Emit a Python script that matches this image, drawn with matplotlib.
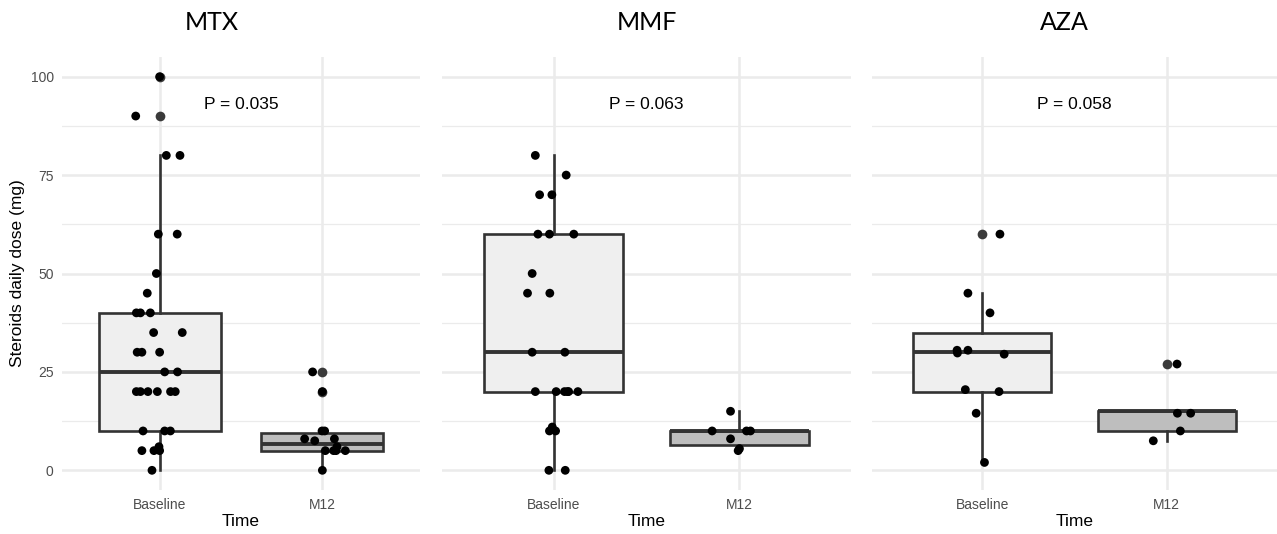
import numpy as np
import matplotlib
matplotlib.use('Agg')
from matplotlib import pyplot as plt
from matplotlib import rcParams

rcParams['font.family'] = ['Liberation Sans', 'DejaVu Sans']

#%% data
groups = ['Baseline', 'M12']
drugs = ['MTX', 'MMF', 'AZA']
pvals = ['P = 0.035', 'P = 0.063', 'P = 0.058']

# doses (mg) and horizontal jitter (category units) of each dot
mtx_base = [100, 90, 80, 80, 60, 60, 50, 45, 40, 40, 40, 35, 35, 30, 30, 30, 25, 25,
            20, 20, 20, 20, 20, 20, 10, 10, 10, 5, 5, 5, 6, 0]
mtx_base_jit = [0.0, -0.147, 0.041, 0.125, -0.008, 0.108, -0.020, -0.076, -0.143, -0.118,
                -0.057, -0.037, 0.139, -0.138, -0.109, 0.0, 0.031, 0.110, -0.143, -0.118,
                -0.072, -0.014, 0.067, 0.096, -0.102, 0.031, 0.066, -0.109, -0.035, 0.0,
                -0.004, -0.047]
mtx_m12 = [25, 20, 10, 10, 8, 7.5, 8, 6, 5, 5, 5, 5, 0]
mtx_m12_jit = [-0.060, 0.0, -0.002, 0.014, -0.109, -0.047, 0.074, 0.090, 0.018, 0.069,
               0.084, 0.141, 0.0]

mmf_base = [80, 75, 70, 70, 60, 60, 60, 50, 45, 45, 30, 30, 20, 20, 20, 20, 20, 20,
            10, 11, 10, 0, 0]
mmf_base_jit = [-0.098, 0.068, -0.075, -0.009, -0.084, -0.022, 0.109, -0.115, -0.140,
                -0.020, -0.115, 0.061, -0.098, 0.014, 0.059, 0.075, 0.081, 0.131, -0.022,
                -0.007, 0.011, -0.025, 0.063]
mmf_m12 = [15, 10, 10, 10, 8, 5, 5.5]
mmf_m12_jit = [-0.048, -0.147, 0.038, 0.059, -0.048, -0.007, 0.0]

aza_base = [60, 45, 40, 30.5, 29.8, 30.5, 29.5, 20.5, 20, 14.5, 2]
aza_base_jit = [0.095, -0.079, 0.041, -0.138, -0.136, -0.079, 0.118, -0.093, 0.090,
                -0.034, 0.011]
aza_m12 = [27, 14.5, 14.5, 10, 7.5]
aza_m12_jit = [0.057, 0.059, 0.131, 0.075, -0.072]

# box stats: whisker low, Q1, median, Q3, whisker high
mtx_box = [[0, 10, 25, 40, 80], [0, 5, 6.75, 9.4, 10]]
mmf_box = [[0, 20, 30, 60, 80], [5, 6.5, 10, 10, 15]]
aza_box = [[2, 20, 30, 35, 45], [7.5, 10, 15, 15, 15]]

values = [[mtx_base, mtx_m12], [mmf_base, mmf_m12], [aza_base, aza_m12]]
jitters = [[mtx_base_jit, mtx_m12_jit], [mmf_base_jit, mmf_m12_jit], [aza_base_jit, aza_m12_jit]]
boxes = [mtx_box, mmf_box, aza_box]

#%%
W, H = 1277, 534
fig = plt.figure(figsize=(W/100, H/100), dpi=100)

# plot areas in pixels (left, right)
panels = [(62, 420), (442, 851), (872, 1277)]
titlex = [212, 647, 1064]
top, bot = 57, 490

fill = ['#EFEFEF', '#BEBEBE']
edge = '#333333'

for i, drug in enumerate(drugs):
    l, r = panels[i]
    ax = fig.add_axes([l/W, 1-bot/H, (r-l)/W, (bot-top)/H])
    for s in ax.spines.values():
        s.set_visible(False)

    stats = []
    for j, b in enumerate(boxes[i]):
        v = np.array(values[i][j])
        stats.append(dict(whislo=b[0], q1=b[1], med=b[2], q3=b[3], whishi=b[4],
                          fliers=v[(v > b[4]) | (v < b[0])]))
    bp = ax.bxp(stats, positions=[1, 2], widths=0.75, patch_artist=True, showcaps=False,
                boxprops=dict(edgecolor=edge, linewidth=1.9),
                medianprops=dict(color=edge, linewidth=2.8),
                whiskerprops=dict(color=edge, linewidth=1.9),
                flierprops=dict(marker='o', markerfacecolor='#3a3a3a',
                                markeredgecolor='none', markersize=7),
                zorder=2)
    for patch, c in zip(bp['boxes'], fill):
        patch.set_facecolor(c)

    for j in range(2):
        x = np.array(jitters[i][j]) + j + 1
        ax.scatter(x, values[i][j], s=40, color='black', edgecolor='none', zorder=4)

    ax.text(1.5, 93, pvals[i], ha='center', va='center', fontsize=12.5)

    ax.set_xlim(0.4, 2.6)
    ax.set_ylim(-5, 105)
    ax.set_xticks([1, 2])
    ax.set_xticklabels(groups)
    ax.set_yticks([0, 25, 50, 75, 100])
    ax.set_yticks([12.5, 37.5, 62.5, 87.5], minor=True)
    ax.grid(which='major', color='#EBEBEB', linewidth=1.8, zorder=0)
    ax.grid(which='minor', axis='y', color='#EBEBEB', linewidth=0.9, zorder=0)
    ax.set_axisbelow(True)
    ax.tick_params(which='both', length=0, labelsize=10, labelcolor='#4D4D4D')
    ax.tick_params(axis='x', pad=6)
    ax.tick_params(axis='y', pad=6)
    ax.set_xlabel('Time', fontsize=12.5, labelpad=1)
    if i == 0:
        ax.set_ylabel('Steroids daily dose (mg)', fontsize=12.5, labelpad=4)
    else:
        ax.tick_params(axis='y', labelleft=False)

    fig.text(titlex[i]/W, 1-22/H, drug, ha='center', va='center', fontsize=18,
             family=['Lato', 'DejaVu Sans'])

fig.savefig('out.png', dpi=100)
